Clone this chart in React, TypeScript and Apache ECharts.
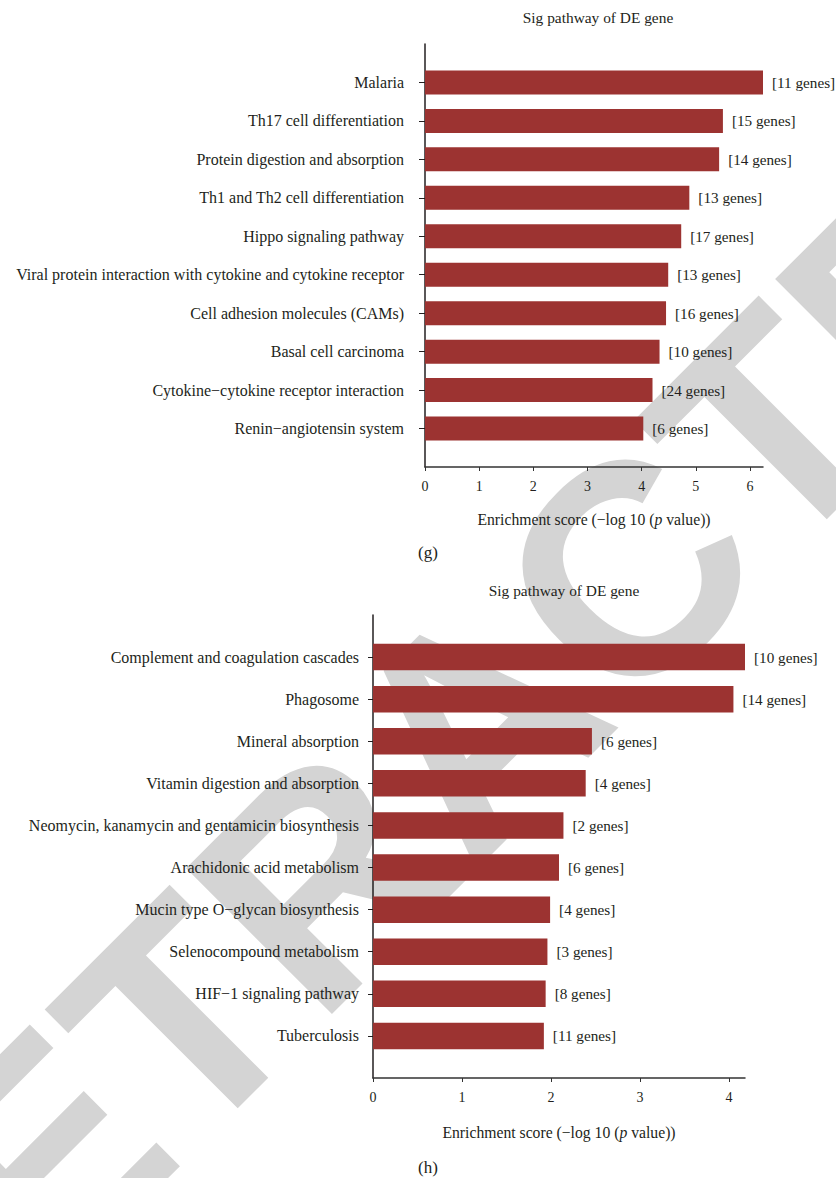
import React, { useEffect, useRef } from "react";
import * as echarts from "echarts";

// ---- Panel (g) data ----
const gCategories = [
  "Malaria",
  "Th17 cell differentiation",
  "Protein digestion and absorption",
  "Th1 and Th2 cell differentiation",
  "Hippo signaling pathway",
  "Viral protein interaction with cytokine and cytokine receptor",
  "Cell adhesion molecules (CAMs)",
  "Basal cell carcinoma",
  "Cytokine\u2212cytokine receptor interaction",
  "Renin\u2212angiotensin system",
];
const gScores = [6.24, 5.5, 5.43, 4.88, 4.73, 4.49, 4.45, 4.33, 4.2, 4.03];
const gGenes = [11, 15, 14, 13, 17, 13, 16, 10, 24, 6];
const gTicks = [0, 1, 2, 3, 4, 5, 6];
const gAxisMax = 6.24;

// ---- Panel (h) data ----
const hCategories = [
  "Complement and coagulation cascades",
  "Phagosome",
  "Mineral absorption",
  "Vitamin digestion and absorption",
  "Neomycin, kanamycin and gentamicin biosynthesis",
  "Arachidonic acid metabolism",
  "Mucin type O\u2212glycan biosynthesis",
  "Selenocompound metabolism",
  "HIF\u22121 signaling pathway",
  "Tuberculosis",
];
const hScores = [4.19, 4.05, 2.46, 2.39, 2.14, 2.09, 1.99, 1.96, 1.94, 1.92];
const hGenes = [10, 14, 6, 4, 2, 6, 4, 3, 8, 11];
const hTicks = [0, 1, 2, 3, 4];
const hAxisMax = 4.18;

const chartTitle = "Sig pathway of DE gene";
const axisName = "Enrichment score (\u2212log 10 ({i|p} value))";
const watermark = "RETRACTED";

const FONT = "'Liberation Serif', 'Times New Roman', serif";
const INK = "#231f20";
const BAR = "#9c3331";

function panel(idx: number, cats: string[], scores: number[], genes: number[], ticks: number[], max: number, opts: any) {
  const padded = ["", ...cats, ""];
  const showIdx = (i: number) => i > 0 && i < padded.length - 1;
  const xAxis = {
    gridIndex: idx,
    type: "value",
    min: 0,
    max: max,
    interval: 1,
    name: axisName,
    nameLocation: "middle",
    nameGap: opts.nameGap,
    nameTextStyle: {
      fontFamily: FONT,
      fontSize: 15.7,
      color: INK,
      rich: { i: { fontFamily: FONT, fontSize: 15.7, fontStyle: "italic", color: INK } },
    },
    axisLine: { show: true, lineStyle: { color: "#333", width: 1.5 } },
    axisTick: { show: true, length: 4, customValues: ticks, lineStyle: { color: "#333", width: 1 } },
    axisLabel: { customValues: ticks, fontFamily: FONT, fontSize: 14, color: INK, margin: 12 },
    splitLine: { show: false },
  };
  const yAxis = {
    gridIndex: idx,
    type: "category",
    data: padded,
    inverse: true,
    boundaryGap: false,
    axisLine: { show: true, lineStyle: { color: INK, width: 1.5 } },
    axisTick: { show: true, length: opts.tickLen, interval: (i: number) => showIdx(i), lineStyle: { color: INK, width: 1 } },
    axisLabel: { interval: (i: number) => showIdx(i), fontFamily: FONT, fontSize: 16, color: INK, margin: opts.labelMargin },
    splitLine: { show: false },
  };
  const series = {
    type: "bar",
    xAxisIndex: idx,
    yAxisIndex: idx,
    barWidth: opts.barWidth,
    data: scores.map((v, i) => [v, i + 1]),
    itemStyle: { color: BAR },
    label: {
      show: true,
      position: "right",
      distance: 9,
      fontFamily: FONT,
      fontSize: 15.2,
      color: INK,
      formatter: (p: any) => `[${genes[p.dataIndex]} genes]`,
    },
    z: 3,
  };
  return { xAxis, yAxis, series };
}

export default function App() {
  const ref = useRef<HTMLDivElement>(null);
  useEffect(() => {
    if (!ref.current) return;
    const chart = echarts.init(ref.current, null, { renderer: "svg" });
    const g = panel(0, gCategories, gScores, gGenes, gTicks, gAxisMax, { nameGap: 44, tickLen: 6, labelMargin: 21, barWidth: 24 });
    const h = panel(1, hCategories, hScores, hGenes, hTicks, hAxisMax, { nameGap: 46, tickLen: 5, labelMargin: 14, barWidth: 26.5 });
    chart.setOption({
      animation: false,
      backgroundColor: "#ffffff",
      title: [
        { text: chartTitle, left: 593, top: 5, textAlign: "center", textStyle: { fontFamily: FONT, fontSize: 15.4, fontWeight: "normal", color: INK } },
        { text: chartTitle, left: 559, top: 578, textAlign: "center", textStyle: { fontFamily: FONT, fontSize: 15.4, fontWeight: "normal", color: INK } },
        { text: "(g)", left: 423, top: 539, textAlign: "center", textStyle: { fontFamily: FONT, fontSize: 17, fontWeight: "normal", color: INK } },
        { text: "(h)", left: 423, top: 1154, textAlign: "center", textStyle: { fontFamily: FONT, fontSize: 17, fontWeight: "normal", color: INK } },
      ],
      grid: [
        { left: 425, top: 44, width: 338, height: 423 },
        { left: 373, top: 615, width: 372, height: 463 },
      ],
      xAxis: [g.xAxis, h.xAxis],
      yAxis: [g.yAxis, h.yAxis],
      series: [g.series, h.series],
      graphic: [
        {
          type: "text",
          x: 474,
          y: 725,
          rotation: Math.PI / 4,
          z: -10,
          silent: true,
          style: {
            text: watermark,
            font: "bold 300px 'Liberation Sans', Arial, sans-serif",
            fill: "#d4d4d4",
            align: "center",
            verticalAlign: "middle",
          },
        },
      ],
    });
    return () => chart.dispose();
  }, []);
  return <div ref={ref} style={{ position: "absolute", left: 0, top: 0, width: 836, height: 1178, background: "#fff" }} />;
}
